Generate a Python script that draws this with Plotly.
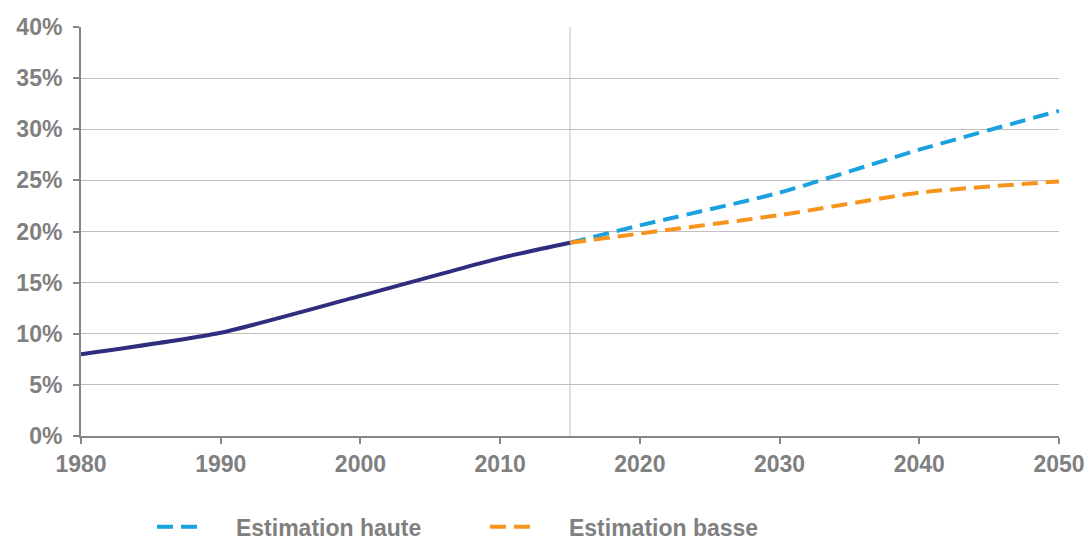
import plotly.graph_objects as go

# Historical share (%)
hist_years = [1980, 1990, 2000, 2010, 2015]
hist_values = [8.0, 10.1, 13.7, 17.4, 18.9]

# Projections from 2015 (%)
proj_years = [2015, 2020, 2030, 2040, 2050]
high_values = [18.9, 20.6, 23.8, 28.0, 31.8]
low_values = [18.9, 19.8, 21.6, 23.8, 24.9]

x_ticks = [1980, 1990, 2000, 2010, 2020, 2030, 2040, 2050]
y_ticks = [0, 5, 10, 15, 20, 25, 30, 35, 40]
y_tick_labels = [f"{v}%" for v in y_ticks]

GREY_TEXT = "#808080"
AXIS_GREY = "#868686"
GRID_GREY = "#C0C0C0"
FONT = "Liberation Sans, Arial, sans-serif"
FS = 23
PAD = "\u00a0" * 5  # gap between legend symbol and label

fig = go.Figure()

fig.add_trace(go.Scatter(
    x=proj_years, y=high_values, mode="lines", name=PAD + "Estimation haute",
    line=dict(color="#1BA1DE", width=4, dash="16px,8px", shape="spline", smoothing=0.6),
))
fig.add_trace(go.Scatter(
    x=proj_years, y=low_values, mode="lines", name=PAD + "Estimation basse",
    line=dict(color="#F7941D", width=4, dash="16px,8px", shape="spline", smoothing=0.6),
))
fig.add_trace(go.Scatter(
    x=hist_years, y=hist_values, mode="lines", name="Historique", showlegend=False,
    line=dict(color="#302C80", width=4, shape="spline", smoothing=0.6),
))

# Separator between observed and projected periods
fig.add_vline(x=2015, line=dict(color=GRID_GREY, width=1), layer="below")

fig.update_layout(
    width=1089, height=544,
    margin=dict(l=81, r=30, t=27, b=108, autoexpand=False),
    paper_bgcolor="white", plot_bgcolor="white",
    font=dict(family=FONT, color=GREY_TEXT, size=FS),
    showlegend=True,
    legend=dict(
        orientation="h", x=0.0726, xanchor="left", y=-0.222, yanchor="middle",
        font=dict(family=FONT, size=FS, color=GREY_TEXT, weight="bold"),
        itemwidth=42, entrywidth=276, entrywidthmode="pixels",
        traceorder="normal",
    ),
    xaxis=dict(
        range=[1980, 2050], tickvals=x_ticks, ticktext=[str(v) for v in x_ticks],
        showgrid=False, zeroline=False,
        showline=True, linecolor=AXIS_GREY, linewidth=2,
        ticks="outside", ticklen=6, tickwidth=2, tickcolor=AXIS_GREY,
        tickfont=dict(family=FONT, size=FS, color=GREY_TEXT, weight="bold"),
    ),
    yaxis=dict(
        range=[0, 40], tickvals=y_ticks, ticktext=y_tick_labels,
        showgrid=True, gridcolor=GRID_GREY, gridwidth=1, zeroline=False,
        showline=True, linecolor=AXIS_GREY, linewidth=2,
        ticks="outside", ticklen=6, tickwidth=2, tickcolor=AXIS_GREY,
        tickfont=dict(family=FONT, size=FS, color=GREY_TEXT, weight="bold"),
        ticklabelstandoff=6,
    ),
)

fig.write_html("out.html")
